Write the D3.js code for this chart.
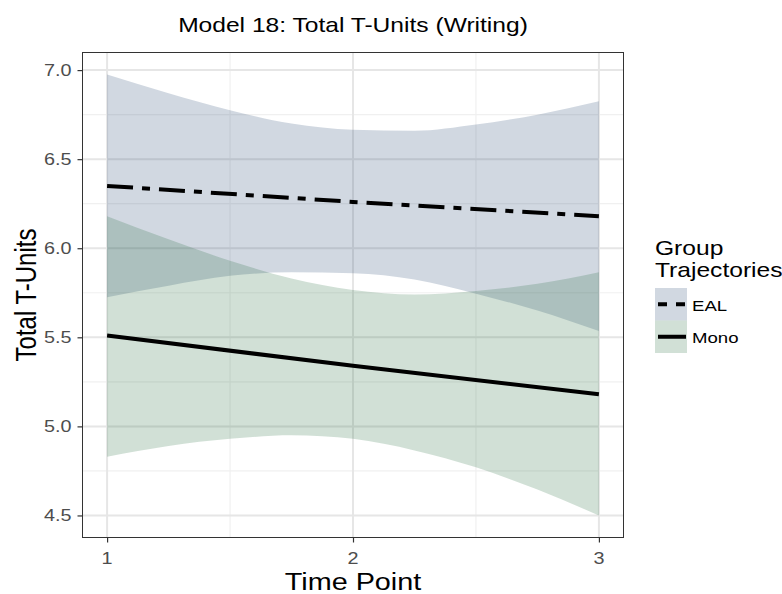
<!DOCTYPE html>
<html>
<head>
<meta charset="utf-8">
<script src="https://cdn.jsdelivr.net/npm/d3@7"></script>
<style>
  html, body { margin: 0; padding: 0; background: #fff; }
  svg { display: block; }
  text { font-family: "Liberation Sans", Arial, Helvetica, sans-serif; }
</style>
</head>
<body>
<svg id="chart" width="782" height="594"></svg>
<script>
// Model 18 predicted trajectories: fitted lines and their confidence ribbons
const timeTicks = [1, 2, 3];
const fitTimes = [1, 2, 3];
const ealFit = [6.35, 6.26, 6.18];
const monoFit = [5.51, 5.34, 5.18];

const bandTimes = [1, 1.25, 1.5, 1.75, 2, 2.25, 2.5, 2.75, 3];
const ealLower = [5.725, 5.79, 5.845, 5.865, 5.86, 5.825, 5.745, 5.65, 5.535];
const ealUpper = [6.975, 6.87, 6.775, 6.70, 6.665, 6.66, 6.695, 6.75, 6.825];
const monoLower = [4.83, 4.89, 4.93, 4.95, 4.93, 4.865, 4.77, 4.645, 4.50];
const monoUpper = [6.18, 6.05, 5.93, 5.83, 5.765, 5.74, 5.76, 5.80, 5.865];

const yTicks = [4.5, 5.0, 5.5, 6.0, 6.5, 7.0];
const groups = ["EAL", "Mono"];

const svg = d3.select("#chart");
const SX = 1.2; // horizontal glyph stretch

const panel = { left: 82.5, right: 623.5, top: 52.5, bottom: 537.5 };

const allBand = ealLower.concat(ealUpper, monoLower, monoUpper);
const yMin = d3.min(allBand), yMax = d3.max(allBand);
const yPad = (yMax - yMin) * 0.05;

const x = d3.scaleLinear().domain([0.9, 3.1]).range([panel.left, panel.right]);
const y = d3.scaleLinear().domain([yMin - yPad, yMax + yPad]).range([panel.bottom, panel.top]);

const styles = {
  EAL: { fill: "rgb(26,58,107)", dash: "26,9,8,9", legendDash: "9,9" },
  Mono: { fill: "rgb(25,100,50)", dash: null, legendDash: null }
};

function label(g, str, px, py, size, opts = {}) {
  const tf = opts.rotate
    ? `translate(${px},${py}) scale(${SX},1) rotate(${opts.rotate})`
    : `translate(${px},${py}) scale(${SX},1)`;
  return g.append("text")
    .attr("transform", tf)
    .attr("font-size", size)
    .attr("fill", opts.fill || "#000")
    .attr("text-anchor", opts.anchor || "start")
    .text(str);
}

// panel background and grid
svg.append("rect").attr("x", panel.left).attr("y", panel.top)
  .attr("width", panel.right - panel.left).attr("height", panel.bottom - panel.top)
  .attr("fill", "#fff");

const grid = svg.append("g");
const minorY = d3.range(yTicks.length - 1).map(i => (yTicks[i] + yTicks[i + 1]) / 2);
const minorX = d3.range(timeTicks.length - 1).map(i => (timeTicks[i] + timeTicks[i + 1]) / 2);
minorY.forEach(v => grid.append("line")
  .attr("x1", panel.left).attr("x2", panel.right).attr("y1", y(v)).attr("y2", y(v))
  .attr("stroke", "#f0f0f0").attr("stroke-width", 1.2));
minorX.forEach(v => grid.append("line")
  .attr("y1", panel.top).attr("y2", panel.bottom).attr("x1", x(v)).attr("x2", x(v))
  .attr("stroke", "#f0f0f0").attr("stroke-width", 1.2));
yTicks.forEach(v => grid.append("line")
  .attr("x1", panel.left).attr("x2", panel.right).attr("y1", y(v)).attr("y2", y(v))
  .attr("stroke", "#e6e6e6").attr("stroke-width", 2));
timeTicks.forEach(v => grid.append("line")
  .attr("y1", panel.top).attr("y2", panel.bottom).attr("x1", x(v)).attr("x2", x(v))
  .attr("stroke", "#e6e6e6").attr("stroke-width", 2));

// confidence ribbons
const area = d3.area()
  .x(d => x(d.t)).y0(d => y(d.lo)).y1(d => y(d.hi))
  .curve(d3.curveMonotoneX);
const bands = {
  EAL: bandTimes.map((t, i) => ({ t, lo: ealLower[i], hi: ealUpper[i] })),
  Mono: bandTimes.map((t, i) => ({ t, lo: monoLower[i], hi: monoUpper[i] }))
};
groups.forEach(gname => {
  svg.append("path").datum(bands[gname])
    .attr("d", area)
    .attr("fill", styles[gname].fill)
    .attr("fill-opacity", 0.2);
});

// fitted lines
const line = d3.line().x(d => x(d.t)).y(d => y(d.v));
const fits = {
  EAL: fitTimes.map((t, i) => ({ t, v: ealFit[i] })),
  Mono: fitTimes.map((t, i) => ({ t, v: monoFit[i] }))
};
groups.forEach(gname => {
  const p = svg.append("path").datum(fits[gname])
    .attr("d", line)
    .attr("fill", "none")
    .attr("stroke", "#000")
    .attr("stroke-width", 4)
    .attr("stroke-linecap", "butt");
  if (styles[gname].dash) p.attr("stroke-dasharray", styles[gname].dash);
});

// panel border
svg.append("rect").attr("x", panel.left).attr("y", panel.top)
  .attr("width", panel.right - panel.left).attr("height", panel.bottom - panel.top)
  .attr("fill", "none").attr("stroke", "#333").attr("stroke-width", 1);

// axes
const yAxis = svg.append("g").attr("transform", `translate(${panel.left},0)`)
  .call(d3.axisLeft(y).tickValues(yTicks).tickSize(5).tickFormat(d3.format(".1f")));
const xAxis = svg.append("g").attr("transform", `translate(0,${panel.bottom})`)
  .call(d3.axisBottom(x).tickValues(timeTicks).tickSize(5).tickFormat(d3.format("d")));
[yAxis, xAxis].forEach(a => {
  a.select(".domain").remove();
  a.selectAll(".tick line").attr("stroke", "#333").attr("stroke-width", 1.2);
  a.selectAll(".tick text").remove();
});
const tickLabels = svg.append("g");
yTicks.forEach(v => label(tickLabels, d3.format(".1f")(v), 71.5, y(v) + 6, 16.5, { anchor: "end", fill: "#4d4d4d" }));
timeTicks.forEach(v => label(tickLabels, d3.format("d")(v), x(v), 563.5, 16.5, { anchor: "middle", fill: "#4d4d4d" }));

// titles
label(svg, "Model 18: Total T-Units (Writing)", (panel.left + panel.right) / 2, 32, 20.5, { anchor: "middle" });
label(svg, "Time Point", (panel.left + panel.right) / 2, 590, 24, { anchor: "middle" });
label(svg, "Total T-Units", 36, (panel.top + panel.bottom) / 2, 24, { anchor: "middle", rotate: -90 });

// legend
const lg = svg.append("g");
label(lg, "Group", 655, 255, 20.5);
label(lg, "Trajectories", 655, 277, 20.5);
const keyH = 32.5, keyW = 32, keyX = 655, keyY = 288;
groups.forEach((gname, i) => {
  const ky = keyY + i * keyH;
  lg.append("rect").attr("x", keyX).attr("y", ky).attr("width", keyW).attr("height", keyH)
    .attr("fill", styles[gname].fill).attr("fill-opacity", 0.2);
  const l = lg.append("line").attr("x1", keyX + 3).attr("x2", keyX + keyW - 1)
    .attr("y1", ky + keyH / 2).attr("y2", ky + keyH / 2)
    .attr("stroke", "#000").attr("stroke-width", 4);
  if (styles[gname].legendDash) l.attr("stroke-dasharray", styles[gname].legendDash);
  label(lg, gname, 692, ky + keyH / 2 + 6.5, 15.5);
});
</script>
</body>
</html>
